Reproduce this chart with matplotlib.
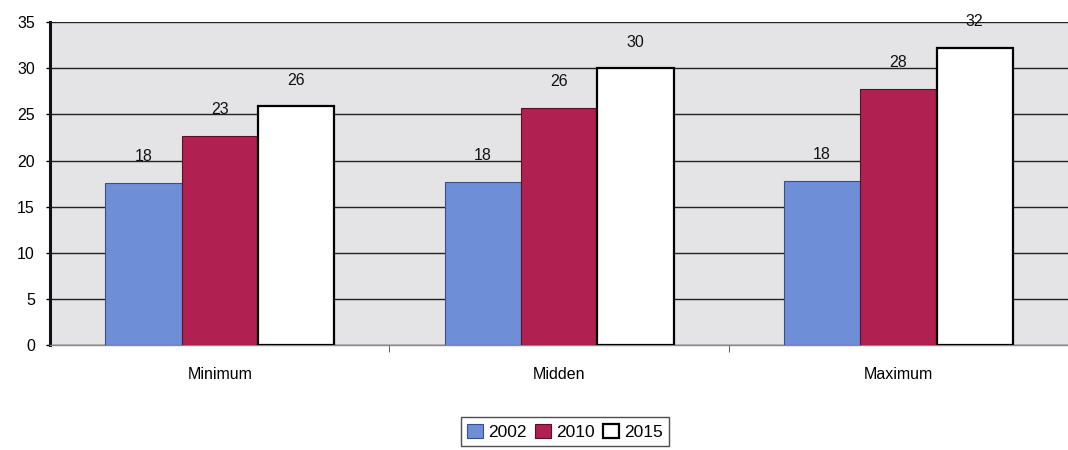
import matplotlib
matplotlib.use("Agg")
import matplotlib.pyplot as plt
import numpy as np

categories = ["Minimum", "Midden", "Maximum"]
series_names = ["2002", "2010", "2015"]
values_2002 = [17.6, 17.7, 17.8]
values_2010 = [22.7, 25.7, 27.8]
values_2015 = [25.9, 30.0, 32.2]
labels_2002 = ["18", "18", "18"]
labels_2010 = ["23", "26", "28"]
labels_2015 = ["26", "30", "32"]
yticks = [0, 5, 10, 15, 20, 25, 30, 35]

plt.rcParams['font.family'] = ['Liberation Sans', 'DejaVu Sans']

fig = plt.figure(figsize=(10.68, 4.5), dpi=100)
ax = fig.add_axes([0.047, 0.233, 0.953, 0.718])
ax.set_facecolor("#e4e4e7")

x = np.arange(len(categories))
w = 0.225
series = [values_2002, values_2010, values_2015]
labels = [labels_2002, labels_2010, labels_2015]
colors = ["#6e8ed8", "#b02050", "#ffffff"]
edges = ["#3a4f8a", "#5a1028", "#000000"]
lws = [0.8, 0.8, 1.6]
handles = []
for i, (vals, labs) in enumerate(zip(series, labels)):
    pos = x + (i - 1) * w
    b = ax.bar(pos, vals, width=w, color=colors[i], edgecolor=edges[i],
               linewidth=lws[i], zorder=3, label=series_names[i])
    handles.append(b)
    for p, v, l in zip(pos, vals, labs):
        ax.text(p, v + 2.0, l, ha="center", va="bottom", fontsize=11.5, color="#111111", zorder=4)

ax.set_xlim(-0.5, 2.5)
ax.set_ylim(0, 35)
ax.set_yticks(yticks)
ax.set_yticklabels([str(t) for t in yticks], fontsize=11.5)
ax.set_xticks(x)
ax.set_xticklabels(categories, fontsize=11.5)
ax.tick_params(axis="x", length=0, pad=16)
ax.tick_params(axis="y", length=3, width=1, pad=8)
ax.set_xticks([0.5, 1.5], minor=True)
ax.tick_params(axis="x", which="minor", length=5, color="#444444")

ax.yaxis.grid(True, color="#222222", linewidth=1.0, zorder=0)
ax.set_axisbelow(True)
for s in ["top", "right"]:
    ax.spines[s].set_visible(False)
ax.spines["left"].set_linewidth(2.2)
ax.spines["left"].set_color("#111111")
ax.spines["bottom"].set_color("#888888")
ax.spines["bottom"].set_linewidth(1.0)

leg = fig.legend(handles=handles, labels=series_names, loc="lower center",
                 bbox_to_anchor=(0.529, -0.01), ncol=3, frameon=True, fontsize=12.5,
                 handlelength=0.9, handleheight=0.9, handletextpad=0.3, columnspacing=0.5,
                 borderpad=0.35, fancybox=False)
leg.get_frame().set_edgecolor("#222222")
leg.get_frame().set_linewidth(1.0)

fig.savefig("out.png", dpi=100)
